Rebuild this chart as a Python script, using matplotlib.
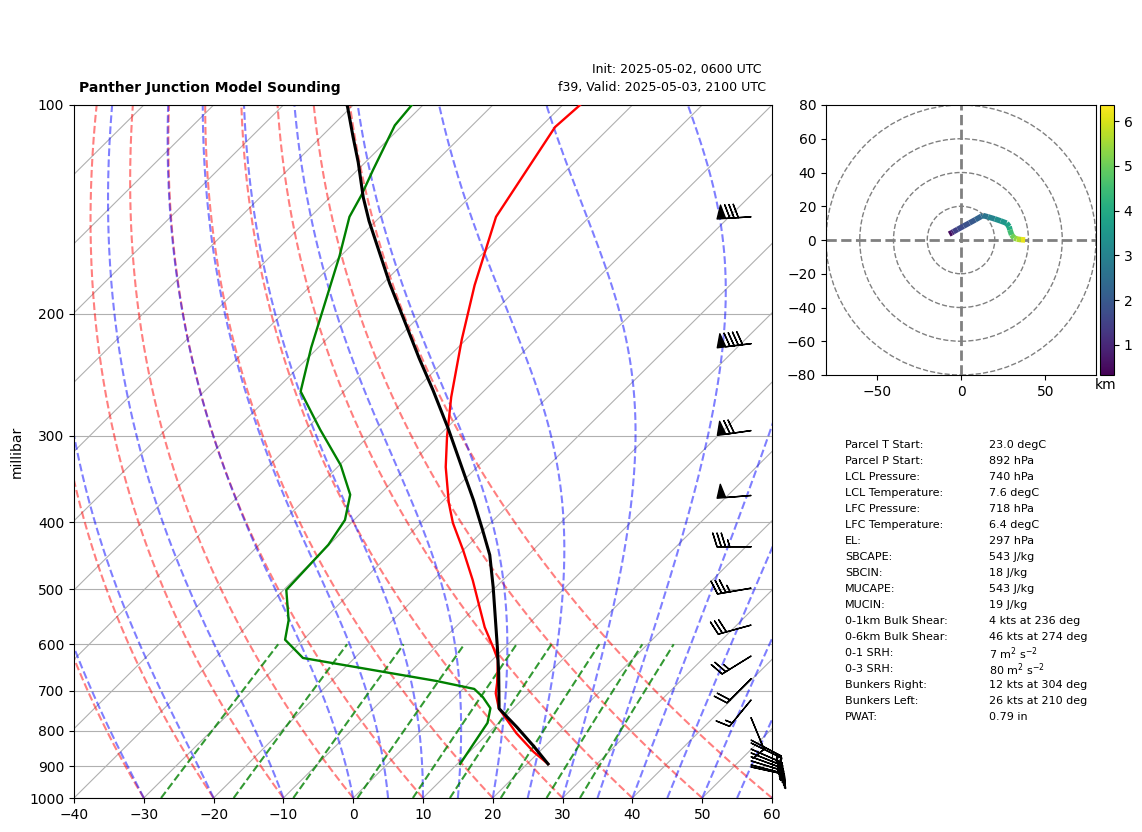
import numpy as np
import matplotlib
matplotlib.use('Agg')
import matplotlib.pyplot as plt
from matplotlib.collections import LineCollection
from matplotlib.patches import Circle
from matplotlib.transforms import Affine2D
from matplotlib.ticker import NullLocator, ScalarFormatter

W, H = 1142, 832

# sounding, temperature
t_p = [893, 858, 806, 742, 706, 682, 632, 607, 567, 523, 485, 439, 401, 375, 333, 301, 264, 218, 182, 145, 107.6, 100]
t_c = [23.0, 19.2, 14.0, 7.9, 5.3, 4.0, 0.8, -1.6, -5.8, -10.2, -14.3, -20.0, -25.4, -28.9, -34.5, -38.7, -43.8, -50.6, -56.6, -63.4, -67.9, -67.5]
# dewpoint
td_p = [893, 779, 742, 715, 696, 678, 628, 591, 554, 501, 431, 397, 365, 331, 294, 259, 224, 165, 145, 135, 124, 107, 100]
td_c = [10.4, 8.4, 6.7, 4.0, 1.6, -4.9, -27.4, -32.6, -34.9, -39.6, -40.1, -41.3, -44.2, -49.8, -57.9, -66.2, -71.0, -80.2, -84.4, -85.8, -87.8, -91.1, -91.6]
# parcel path
parcel_p = [893, 841, 790, 743, 660, 606, 496, 446, 410, 372, 344, 294, 258, 232, 209, 181, 147, 136, 121, 111, 100.7, 100]
parcel_c = [23.0, 18.3, 13.2, 8.0, 2.8, -1.1, -10.4, -15.5, -20.2, -25.7, -30.3, -39.5, -47.4, -54.0, -60.3, -69.0, -81.0, -85.2, -91.0, -95.5, -100.5, -100.9]

# wind barbs (kts)
barb_p = [145, 221, 295, 366, 434, 498, 563, 624, 673, 722, 766, 825, 833, 850, 861, 872, 884, 896, 902]
barb_u = [80, 90, 70, 50, 35, 35, 29, 21, 14, 9.5, -3.8, -13.3, -13.5, -13.7, -13.9, -14.1, -14.3, -14.5, -14.6]
barb_v = [5, 11, 10, 4, 0, 6, 8, 13, 14, 11.6, 9.2, 7.0, 6.6, 6.0, 5.6, 5.1, 4.4, 3.8, 3.2]

# hodograph
hodo_u = [-7, -5.5, -4.5, -2, 1.5, 5, 8.5, 12, 13, 16, 20, 23.5, 27, 28.5, 29, 30, 31.5, 33, 35.5, 38]
hodo_v = [3.5, 4.3, 4.9, 6.3, 8.2, 10.1, 12, 14, 14.5, 13.7, 12.5, 11.3, 10, 8, 6, 3, 1.2, 0.6, 0.2, 0]
hodo_z = [0.33, 0.7, 1.3, 1.6, 1.75, 1.9, 2.1, 2.4, 2.5, 2.8, 3.2, 3.4, 3.6, 3.9, 4.2, 4.85, 5.2, 5.45, 5.9, 6.36]

dry_t0 = [-40, -30, -20, -10, 0, 10, 20, 30, 40, 50, 60]
moist_t0 = [-40, -30, -20, -10, 0, 5, 10, 15, 20, 25, 30, 35, 40, 45, 50, 55, 60]
mix_ratios = [0.0004, 0.001, 0.002, 0.004, 0.007, 0.01, 0.016, 0.024, 0.032]

table_names = ['Parcel T Start:', 'Parcel P Start:', 'LCL Pressure:', 'LCL Temperature:', 'LFC Pressure:',
               'LFC Temperature:', 'EL:', 'SBCAPE:', 'SBCIN:', 'MUCAPE:', 'MUCIN:', '0-1km Bulk Shear:',
               '0-6km Bulk Shear:', '0-1 SRH:', '0-3 SRH:', 'Bunkers Right:', 'Bunkers Left:', 'PWAT:']
table_vals = ['23.0 degC', '892 hPa', '740 hPa', '7.6 degC', '718 hPa', '6.4 degC', '297 hPa', '543 J/kg',
              '18 J/kg', '543 J/kg', '19 J/kg', '4 kts at 236 deg', '46 kts at 274 deg',
              r'7 m$^2$ s$^{-2}$', r'80 m$^2$ s$^{-2}$', '12 kts at 304 deg', '26 kts at 210 deg', '0.79 in']


def px_axes(fig, x0, y0, x1, y1):
    return fig.add_axes([x0 / W, 1 - y1 / H, (x1 - x0) / W, (y1 - y0) / H])


def sat_mixing(t_k, p):
    es = 6.112 * np.exp(17.67 * (t_k - 273.15) / (t_k - 29.65))
    return 0.622 * es / (p - es)


def moist_curve(t0, pres):
    # step up from 1000 hPa with the moist lapse equation
    out = [t0 + 273.15]
    for p0, p1 in zip(pres[:-1], pres[1:]):
        t = out[-1]
        rs = sat_mixing(t, p0)
        num = 287.05 * t + 2.501e6 * rs
        den = 1005.0 + 2.501e6 ** 2 * rs * 0.622 / (287.05 * t ** 2)
        out.append(t + num / den * np.log(p1 / p0))
    return np.array(out) - 273.15


fig = plt.figure(figsize=(W / 100, H / 100), dpi=100)
ax = px_axes(fig, 74, 105, 772, 798)
ax.set_yscale('log')
ax.set_xlim(-40, 60)
ax.set_ylim(1000, 100)
skew = ax.transScale + ax.transLimits + Affine2D().skew_deg(45, 0) + ax.transAxes

pres = np.linspace(1000, 100, 400)

# isotherms
for t in range(-150, 70, 10):
    ax.plot([t, t], [1000, 100], color='#b0b0b0', lw=0.8, transform=skew, zorder=1)

for t0 in dry_t0:
    ax.plot((t0 + 273.15) * (pres / 1000) ** 0.2854 - 273.15, pres, color='r', ls='--', lw=1.5, alpha=0.5,
            transform=skew, zorder=2)
for t0 in moist_t0:
    ax.plot(moist_curve(t0, pres), pres, color='b', ls='--', lw=1.5, alpha=0.5, transform=skew, zorder=2)

mix_p = np.linspace(1000, 600, 50)
for w in mix_ratios:
    val = np.log(mix_p * w / (0.622 + w) / 6.112)
    ax.plot(243.5 * val / (17.67 - val), mix_p, color='g', ls='--', lw=1.5, alpha=0.8, transform=skew, zorder=2)

ax.plot(t_c, t_p, color='r', lw=1.7, transform=skew, zorder=4)
ax.plot(td_c, td_p, color='g', lw=1.7, transform=skew, zorder=4)
ax.plot(parcel_c, parcel_p, color='k', lw=2.2, transform=skew, zorder=5)

ax.barbs(np.full(len(barb_p), 0.97), barb_p, barb_u, barb_v, length=7, clip_on=False, zorder=6,
         transform=ax.get_yaxis_transform())

ax.set_xticks(np.arange(-40, 61, 10))
ax.set_yticks(np.arange(100, 1001, 100))
ax.yaxis.set_major_formatter(ScalarFormatter())
ax.yaxis.set_minor_locator(NullLocator())
ax.yaxis.grid(True, color='#b0b0b0', lw=0.8)
ax.set_axisbelow(True)
ax.set_ylabel('millibar')

fig.text(79 / W, 1 - 88 / H, 'Panther Junction Model Sounding', fontsize=10, fontweight='bold', va='center')
fig.text(762 / W, 1 - 70 / H, 'Init: 2025-05-02, 0600 UTC', fontsize=9, ha='right', va='center')
fig.text(766 / W, 1 - 88 / H, 'f39, Valid: 2025-05-03, 2100 UTC', fontsize=9, ha='right', va='center')

# hodograph
hax = px_axes(fig, 826, 105, 1096, 375)
hax.set_xlim(-80, 80)
hax.set_ylim(-80, 80)
for r in [20, 40, 60, 80]:
    hax.add_patch(Circle((0, 0), r, fill=False, ec='gray', ls='--', lw=1))
hax.axhline(0, color='gray', ls='--', lw=2)
hax.axvline(0, color='gray', ls='--', lw=2)
pts = np.column_stack([hodo_u, hodo_v]).reshape(-1, 1, 2)
lc = LineCollection(np.concatenate([pts[:-1], pts[1:]], axis=1), cmap='viridis', lw=4, zorder=5)
lc.set_array(np.array(hodo_z[:-1]) * 0.5 + np.array(hodo_z[1:]) * 0.5)
lc.set_clim(min(hodo_z), max(hodo_z))
hax.add_collection(lc)
hax.set_xticks([-50, 0, 50])
hax.set_yticks(np.arange(-80, 81, 20))

cax = px_axes(fig, 1100, 105, 1114, 375)
cb = fig.colorbar(lc, cax=cax)
cb.set_ticks([1, 2, 3, 4, 5, 6])
fig.text(1106 / W, 1 - 385 / H, 'km', fontsize=10, ha='center', va='center')

# parameter table
for i, (name, val) in enumerate(zip(table_names, table_vals)):
    y = 1 - (445 + i * 16.02) / H
    fig.text(845 / W, y, name, fontsize=8, va='center')
    fig.text(989 / W, y, val, fontsize=8, va='center')

fig.savefig('out.png', dpi=100)
